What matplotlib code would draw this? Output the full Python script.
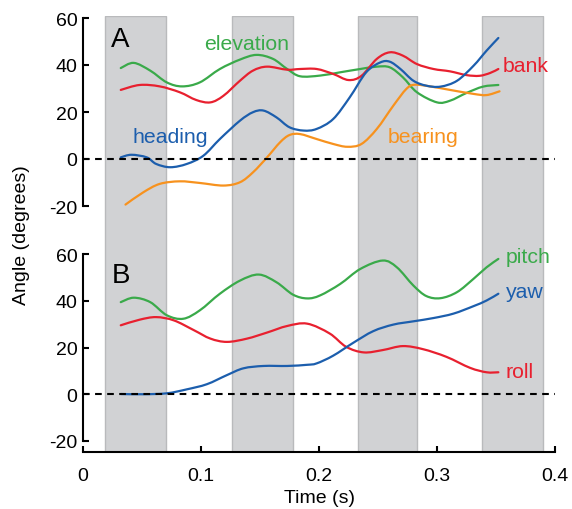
import matplotlib as mpl

mpl.use("Agg")
import matplotlib.pyplot as plt
import numpy as np
from matplotlib.patches import PathPatch, Rectangle
from matplotlib.path import Path

GREEN = "#3aaa4a"
RED = "#e8202f"
BLUE = "#1c5ead"
ORANGE = "#f7921e"
BAND = "#d1d2d4"
BAND_EDGE = "#b9babc"

# stimulus bands (s)
band_start = [0.019, 0.126, 0.233, 0.338]
band_end = [0.070, 0.178, 0.283, 0.390]

# panel A
elev_t = [0.032, 0.043, 0.057, 0.071, 0.084, 0.099, 0.116, 0.133, 0.147, 0.161, 0.173, 0.184,
          0.201, 0.218, 0.235, 0.249, 0.260, 0.271, 0.283, 0.300, 0.311, 0.325, 0.339, 0.352]
elev = [38.7, 40.9, 37.6, 32.6, 30.9, 32.6, 38.3, 42.3, 44.3, 42.6, 38.3, 35.2,
        35.5, 36.9, 38.3, 39.3, 39.0, 34.8, 28.4, 24.1, 24.8, 28.1, 30.8, 31.5]

bank_t = [0.032, 0.048, 0.065, 0.082, 0.096, 0.108, 0.119, 0.133, 0.144, 0.156, 0.173, 0.184, 0.198,
          0.212, 0.225, 0.236, 0.249, 0.260, 0.271, 0.283, 0.297, 0.311, 0.325, 0.336, 0.345, 0.352]
bank = [29.4, 31.5, 30.9, 28.4, 25.1, 24.1, 26.9, 33.3, 37.6, 39.3, 38.0, 38.3, 38.3,
        36.2, 33.6, 35.4, 42.6, 45.4, 44.0, 40.4, 38.3, 37.3, 35.7, 35.4, 36.6, 38.3]

head_t = [0.032, 0.041, 0.054, 0.062, 0.074, 0.088, 0.102, 0.116, 0.133, 0.144, 0.153, 0.164, 0.175, 0.187,
          0.198, 0.212, 0.226, 0.240, 0.252, 0.260, 0.269, 0.280, 0.291, 0.303, 0.317, 0.331, 0.342, 0.352]
heading = [0.7, 1.8, 0.7, -2.1, -3.5, -2.1, 1.4, 8.5, 16.3, 19.9, 20.6, 17.7, 13.5, 12.1,
           12.8, 17.0, 26.2, 36.9, 41.1, 41.4, 38.3, 33.3, 31.2, 30.8, 33.3, 39.7, 46.1, 51.5]

bear_t = [0.036, 0.051, 0.065, 0.082, 0.099, 0.119, 0.133, 0.144, 0.156, 0.167, 0.175, 0.184, 0.198,
          0.212, 0.224, 0.236, 0.249, 0.263, 0.274, 0.281, 0.294, 0.311, 0.331, 0.342, 0.353]
bearing = [-19.4, -14.2, -10.6, -9.5, -10.2, -11.3, -9.9, -5.7, 0.7, 7.1, 10.2, 10.6, 8.5,
           6.4, 5.2, 6.4, 12.8, 22.7, 29.8, 31.6, 30.9, 29.4, 27.7, 27.2, 28.8]

# panel B
pitch_t = [0.032, 0.043, 0.057, 0.071, 0.085, 0.099, 0.116, 0.133, 0.149, 0.164, 0.178, 0.190,
           0.201, 0.218, 0.235, 0.254, 0.266, 0.280, 0.291, 0.303, 0.317, 0.331, 0.342, 0.352]
pitch = [39.4, 41.3, 39.4, 33.8, 32.3, 35.9, 43.0, 48.6, 51.2, 47.9, 42.6, 41.0,
         42.3, 47.2, 53.6, 57.2, 54.3, 46.5, 42.0, 41.1, 43.7, 49.4, 54.3, 57.9]

roll_t = [0.032, 0.048, 0.062, 0.077, 0.094, 0.108, 0.122, 0.139, 0.156, 0.173, 0.190,
          0.209, 0.223, 0.238, 0.254, 0.271, 0.288, 0.308, 0.328, 0.342, 0.352]
roll = [29.5, 31.9, 33.0, 31.6, 27.4, 23.8, 22.4, 23.8, 26.4, 29.2, 30.2,
        26.0, 20.3, 17.9, 18.9, 20.6, 19.3, 16.0, 11.3, 9.4, 9.4]

yaw_t = [0.032, 0.051, 0.071, 0.088, 0.105, 0.122, 0.136, 0.153, 0.173, 0.190, 0.198,
         0.212, 0.229, 0.246, 0.263, 0.280, 0.297, 0.314, 0.331, 0.342, 0.352]
yaw = [0.1, 0.0, 0.4, 2.1, 4.3, 8.2, 11.1, 12.1, 12.1, 12.6, 13.2,
       16.5, 22.0, 27.0, 29.8, 31.2, 32.6, 34.5, 37.7, 40.1, 43.0]

y_ticks = [-20, 0, 20, 40, 60]
x_ticks = [0, 0.1, 0.2, 0.3, 0.4]
x_tick_labels = ["0", "0.1", "0.2", "0.3", "0.4"]


def smooth_trace(ax, t, v, color):
    # bezier path through the read points (catmull-rom tangents)
    p = np.column_stack([t, v])
    verts = [p[0]]
    codes = [Path.MOVETO]
    for i in range(len(p) - 1):
        p0 = p[i - 1] if i > 0 else p[i]
        p3 = p[i + 2] if i + 2 < len(p) else p[i + 1]
        c1 = p[i] + (p[i + 1] - p0) / 6
        c2 = p[i + 1] - (p3 - p[i]) / 6
        verts += [c1, c2, p[i + 1]]
        codes += [Path.CURVE4] * 3
    ax.add_patch(PathPatch(Path(verts, codes), fill=False, edgecolor=color, linewidth=1.6,
                           capstyle="round", joinstyle="round", clip_on=False))


mpl.rcParams.update({
    "font.family": ["Liberation Sans", "DejaVu Sans"],
    "font.size": 14,
    "axes.unicode_minus": False,
})

W, H = 572, 510
fig = plt.figure(figsize=(W / 100, H / 100), dpi=100)
left = 83 / W
width = (555 - 83) / W

# band layer behind both panels
bg = fig.add_axes([left, 1 - 453 / H, width, (453 - 17) / H], zorder=0)
bg.set_xlim(0, 0.4)
bg.set_ylim(0, 1)
bg.axis("off")
for s, e in zip(band_start, band_end):
    bg.add_patch(Rectangle((s, 0), e - s, 1, facecolor=BAND, edgecolor=BAND_EDGE, linewidth=1.0))

ax_a = fig.add_axes([left, 1 - 207 / H, width, (207 - 19) / H], zorder=1)
ax_b = fig.add_axes([left, 1 - 442 / H, width, (442 - 255) / H], zorder=1)

for ax in (ax_a, ax_b):
    ax.patch.set_visible(False)
    ax.set_xlim(0, 0.4)
    ax.set_ylim(-20, 60)
    for side in ("top", "right"):
        ax.spines[side].set_visible(False)
    ax.spines["left"].set_linewidth(1.5)
    ax.set_yticks(y_ticks)
    ax.tick_params(axis="y", direction="in", length=4, width=1.5, pad=4, labelsize=14)
    ax.plot([0, 0.4], [0, 0], color="black", linestyle=(0, (3.2, 2.6)), linewidth=1.5, clip_on=False)

ax_a.spines["bottom"].set_visible(False)
ax_a.set_xticks([])

ax_b.spines["bottom"].set_position(("outward", 8))
ax_b.spines["bottom"].set_linewidth(1.5)
ax_b.set_xticks(x_ticks, x_tick_labels)
ax_b.tick_params(axis="x", direction="in", length=4, width=1.5, pad=11, labelsize=14)

smooth_trace(ax_a, elev_t, elev, GREEN)
smooth_trace(ax_a, bank_t, bank, RED)
smooth_trace(ax_a, bear_t, bearing, ORANGE)
smooth_trace(ax_a, head_t, heading, BLUE)

smooth_trace(ax_b, pitch_t, pitch, GREEN)
smooth_trace(ax_b, roll_t, roll, RED)
smooth_trace(ax_b, yaw_t, yaw, BLUE)

lab = 15.3
ax_a.text(0.103, 49.0, "elevation", color=GREEN, fontsize=lab, va="center")
ax_a.text(0.042, 9.4, "heading", color=BLUE, fontsize=lab, va="center")
ax_a.text(0.356, 39.6, "bank", color=RED, fontsize=lab, va="center")
ax_a.text(0.258, 9.4, "bearing", color=ORANGE, fontsize=lab, va="center")
ax_b.text(0.358, 59.0, "pitch", color=GREEN, fontsize=lab, va="center")
ax_b.text(0.358, 43.8, "yaw", color=BLUE, fontsize=lab, va="center")
ax_b.text(0.358, 9.8, "roll", color=RED, fontsize=lab, va="center")

ax_a.text(0.024, 51, "A", fontsize=20, va="center", ha="left")
ax_b.text(0.024, 51, "B", fontsize=20, va="center", ha="left")

fig.text(22 / W, 1 - 235 / H, "Angle (degrees)", rotation=90, ha="center", va="center", fontsize=14)
fig.text(left + width / 2, 1 - 499 / H, "Time (s)", ha="center", va="center", fontsize=14)

fig.savefig("out.png", dpi=100, facecolor="white")
